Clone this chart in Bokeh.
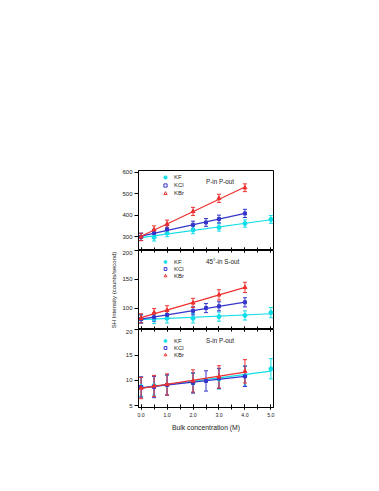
import numpy as np
from bokeh.plotting import figure
from bokeh.layouts import column
from bokeh.models import (Range1d, Whisker, TeeHead, Legend, LegendItem, Label, LinearAxis,
                          SingleIntervalTicker, FixedTicker, PrintfTickFormatter, ColumnDataSource)
from bokeh.embed import file_html
from bokeh.resources import INLINE

# ---------------- data ----------------
conc_kf = [0, 0.5, 1, 2, 3, 4, 5]
conc_kcl = [0, 0.5, 1, 2, 2.5, 3, 4]
conc_kbr = [0, 0.5, 1, 2, 3, 4]

# P-in P-out
pp_kf = [300, 298, 318, 332, 344, 362, 381]
pp_kf_err = [17, 17, 17, 17, 17, 17, 18]
pp_kcl = [300, 318, 335, 356, 367, 383, 409]
pp_kcl_err = [17, 17, 17, 17, 18, 18, 19]
pp_kbr = [300, 333, 360, 418, 479, 528]
pp_kbr_err = [17, 18, 18, 19, 19, 18]

# 45°-in S-out
ss_kf = [81, 81, 82, 82, 85, 87, 92]
ss_kf_err = [8, 8, 8, 8, 8, 8, 9]
ss_kcl = [81, 84, 88, 95, 100, 103, 110]
ss_kcl_err = [7, 7, 7, 7, 8, 8, 8]
ss_kbr = [82, 92, 96, 109, 123, 136]
ss_kbr_err = [8, 7, 8, 8, 9, 9]

# S-in P-out
sp_kf = [8.8, 9.0, 9.1, 9.5, 10.3, 10.9, 12.3]
sp_kf_err = [1.9, 1.9, 1.9, 1.9, 2.0, 2.0, 2.0]
sp_kcl = [8.7, 8.7, 9.1, 9.5, 9.9, 10.4, 10.8]
sp_kcl_err = [2.0, 2.1, 2.0, 2.0, 2.0, 2.0, 2.0]
sp_kbr = [8.5, 8.9, 9.2, 9.9, 10.7, 11.8]
sp_kbr_err = [2.1, 2.1, 2.1, 2.2, 2.2, 2.3]

panel_titles = ["P-in P-out", "45°-in S-out", "S-in P-out"]
panel_ylims = [(237, 608), (62.5, 200.5), (4.66, 20.05)]
panel_yticks = [[300, 400, 500, 600], [100, 150, 200], [5, 10, 15, 20]]
series_names = ["KF", "KCl", "KBr"]
x_ticks_hidden = {0: "", 1: "", 2: "", 3: "", 4: "", 5: ""}

x_label = "Bulk concentration (M)"
y_label = "SH Intensity (counts/second)"

# ---------------- style ----------------
C_KF = "#10dde8"
C_KCL = "#3535cc"
C_KBR = "#ee3030"
FONT = "Liberation Sans"
TXT = "#222222"

FRAME_W = 135
LEFT = 138
RIGHT = 10
frame_heights = [80, 79, 78]
tops = [170, 0, 0]
bottoms = [0, 0, 40]

panel_data = [
    [(conc_kf, pp_kf, pp_kf_err), (conc_kcl, pp_kcl, pp_kcl_err), (conc_kbr, pp_kbr, pp_kbr_err)],
    [(conc_kf, ss_kf, ss_kf_err), (conc_kcl, ss_kcl, ss_kcl_err), (conc_kbr, ss_kbr, ss_kbr_err)],
    [(conc_kf, sp_kf, sp_kf_err), (conc_kcl, sp_kcl, sp_kcl_err), (conc_kbr, sp_kbr, sp_kbr_err)],
]
colors = [C_KF, C_KCL, C_KBR]
markers = ["circle", "square", "triangle"]
msizes = [4, 3, 4]

figs = []
for i in range(3):
    ylo, yhi = panel_ylims[i]
    p = figure(width=LEFT + FRAME_W + RIGHT, height=tops[i] + frame_heights[i] + bottoms[i],
               x_range=Range1d(-0.1, 5.1), y_range=Range1d(ylo, yhi),
               output_backend="svg", toolbar_location=None, title=None,
               min_border_left=LEFT, min_border_right=RIGHT,
               min_border_top=tops[i], min_border_bottom=bottoms[i])
    p.xgrid.visible = False
    p.ygrid.visible = False
    p.outline_line_color = "black"
    p.outline_line_width = 1
    p.background_fill_color = "white"
    p.border_fill_color = "white"

    # x axis
    xa = p.xaxis[0]
    xa.ticker = SingleIntervalTicker(interval=1, num_minor_ticks=2)
    xa.formatter = PrintfTickFormatter(format="%.1f")
    xa.major_tick_in = 3
    xa.minor_tick_in = 3
    xa.major_tick_out = 2
    xa.minor_tick_out = 2
    xa.axis_line_color = "black"
    xa.major_tick_line_color = "black"
    xa.minor_tick_line_color = "black"
    xa.major_label_text_font = FONT
    xa.major_label_text_font_size = "5.2px"
    xa.major_label_text_color = TXT
    xa.major_label_standoff = 3
    if i < 2:
        xa.fixed_location = ylo
        xa.major_label_overrides = x_ticks_hidden
        xa.major_tick_out = 0
        xa.minor_tick_out = 0
    else:
        xa.axis_label = x_label
        xa.axis_label_text_font = FONT
        xa.axis_label_text_font_size = "6.8px"
        xa.axis_label_text_font_style = "normal"
        xa.axis_label_text_color = TXT
        xa.axis_label_standoff = 4
    if i > 0:
        ta = LinearAxis(ticker=SingleIntervalTicker(interval=1, num_minor_ticks=2),
                        fixed_location=yhi, major_tick_in=2, minor_tick_in=2,
                        major_tick_out=0, minor_tick_out=0,
                        major_label_overrides=x_ticks_hidden)
        p.add_layout(ta, "above")

    # y axis
    ya = p.yaxis[0]
    ya.ticker = FixedTicker(ticks=panel_yticks[i])
    ya.major_tick_in = 0
    ya.major_tick_out = 4
    ya.minor_tick_line_color = None
    ya.axis_line_color = "black"
    ya.major_tick_line_color = "black"
    ya.major_label_text_font = FONT
    ya.major_label_text_font_size = "6px"
    ya.major_label_text_color = TXT
    ya.major_label_standoff = 2
    if i == 1:
        ya.axis_label = y_label
        ya.axis_label_text_font = FONT
        ya.axis_label_text_font_size = "6px"
        ya.axis_label_text_font_style = "normal"
        ya.axis_label_text_color = TXT
        ya.axis_label_standoff = 2

    items = []
    for k in range(3):
        xs, ys, es = panel_data[i][k]
        xs = np.array(xs, dtype=float)
        ys = np.array(ys, dtype=float)
        es = np.array(es, dtype=float)
        c = colors[k]
        slope, icpt = np.polyfit(xs, ys, 1)
        fx = np.array([xs.min(), xs.max()])
        p.line(fx, slope * fx + icpt, line_color=c, line_width=1.2)
        src = ColumnDataSource(dict(x=xs, y=ys, up=ys + es, lo=ys - es))
        w = Whisker(base="x", upper="up", lower="lo", source=src, dimension="height",
                    line_color=c, line_width=1,
                    upper_head=TeeHead(size=4, line_color=c, line_width=1),
                    lower_head=TeeHead(size=4, line_color=c, line_width=1))
        p.add_layout(w)
        p.scatter("x", "y", source=src, marker=markers[k], size=msizes[k],
                  line_color=c, fill_color=c)
        # legend glyph (open for KCl / KBr)
        lr = p.scatter(x=[np.nan], y=[np.nan], marker=markers[k], size=6,
                       line_color=c, fill_color=c if k == 0 else None, line_width=1)
        items.append(LegendItem(label=series_names[k], renderers=[lr]))

    leg = Legend(items=items, location=(23, frame_heights[i] - 27 - (2 if i > 0 else 0)),
                 orientation="vertical",
                 padding=0, margin=0, spacing=0, glyph_width=8, glyph_height=8 if i == 0 else 7,
                 label_height=8 if i == 0 else 7, label_standoff=5,
                 label_text_font=FONT, label_text_font_size="6px", label_text_color=TXT,
                 border_line_alpha=0, background_fill_alpha=0)
    p.add_layout(leg)

    ty = ylo + 0.865 * (yhi - ylo)
    p.add_layout(Label(x=2.5, y=ty, text=panel_titles[i], text_font=FONT,
                       text_font_size="6.3px", text_color=TXT,
                       text_align="left", text_baseline="middle"))
    figs.append(p)

layout = column(*figs, spacing=0)
open("out.html", "w").write(file_html(layout, INLINE))
